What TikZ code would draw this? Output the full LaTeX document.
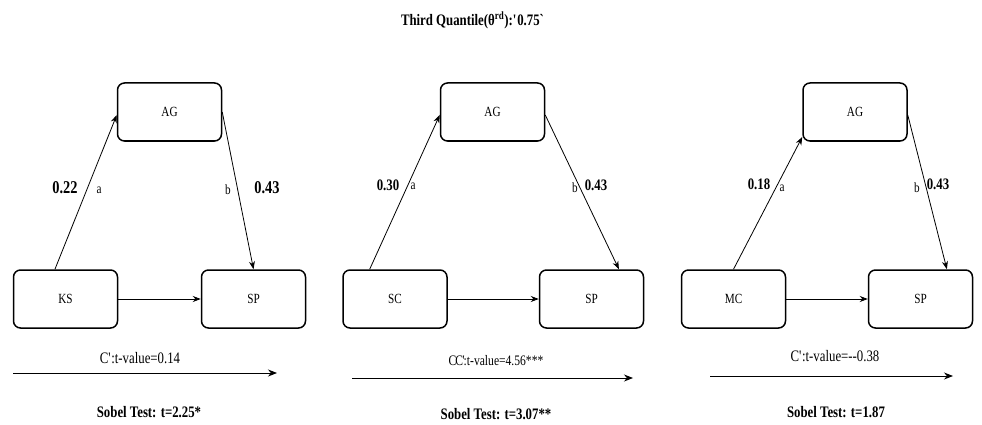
\documentclass[tikz,border=0pt]{standalone}
\usepackage{fontspec}
\setmainfont{Liberation Serif}[FakeStretch=0.8]
\usetikzlibrary{arrows.meta,calc}
\tikzset{
  box/.style={draw, line width=1.5pt, rounded corners=7pt, minimum width=104pt, minimum height=58pt, inner sep=0pt, font=\fontsize{14}{16}\selectfont},
  arr/.style={-{Stealth[length=8pt,width=6pt]}, line width=0.8pt},
  longarr/.style={-{Stealth[length=9pt,width=7pt]}, line width=0.9pt},
  coefbig/.style={font=\bfseries\fontsize{18}{20}\selectfont},
  coef/.style={font=\bfseries\fontsize{16}{18}\selectfont},
  lab/.style={font=\fontsize{14}{16}\selectfont},
  ctext/.style={font=\fontsize{16}{18}\selectfont},
  ctextsmall/.style={font=\fontsize{14.5}{16}\selectfont},
  sobel/.style={font=\bfseries\fontsize{16}{18}\selectfont},
  ttl/.style={font=\bfseries\fontsize{16}{18}\selectfont}
}
\begin{document}
\begin{tikzpicture}[x=1pt,y=-1pt]
\useasboundingbox (0,0) rectangle (982,425);
\fill[white] (0,0) rectangle (982,425);
\node[ttl] (title) at (473,20) {Third Quantile(θ\textsuperscript{rd}):\textquotesingle0.75\textasciigrave};
% Panel 1
\node[box] (AG1) at (169.5,112) {AG};
\node[box] (KS) at (65.5,299) {KS};
\node[box] (SP1) at (253.5,299) {SP};
\draw[arr] ($(KS.north west)!0.4!(KS.north east)$) -- ($(AG1.north west)!0.55!(AG1.south west)$);
\draw[arr] (AG1.east) -- (SP1.north);
\draw[arr] (KS.east) -- (SP1.west);
\node[coefbig] (c1a) at (65,188) {0.22};
\node[lab] (l1a) at (99,190) {a};
\node[lab] (l1b) at (228,190) {b};
\node[coefbig] (c1b) at (267,188) {0.43};
\node[ctext] (t1) at (140,358) {C\textquotesingle:t-value=0.14};
\coordinate (s1) at (13,373);
\coordinate (e1) at (277,373);
\draw[longarr] (s1) -- (e1);
\node[sobel] (sob1) at (149,412) {Sobel Test: t=2.25*};
% Panel 2
\node[box] (AG2) at (492.5,112) {AG};
\node[box] (SC) at (395,299) {SC};
\node[box] (SP2) at (591.5,299) {SP};
\draw[arr] ($(SC.north west)!0.26!(SC.north east)$) -- ($(AG2.north west)!0.55!(AG2.south west)$);
\draw[arr] ($(AG2.north east)!0.55!(AG2.south east)$) -- ($(SP2.north west)!0.76!(SP2.north east)$);
\draw[arr] (SC.east) -- (SP2.west);
\node[coef] (c2a) at (388,185) {0.30};
\node[lab] (l2a) at (413,186) {a};
\node[lab] (l2b) at (575,188) {b};
\node[coef] (c2b) at (596,185) {0.43};
\node[ctextsmall] (t2) at (496,361) {C\kern-1pt C\kern-0.5pt\textquotesingle\kern-1.5pt:t-value=4.56***};
\coordinate (s2) at (352,378);
\coordinate (e2) at (633,378);
\draw[longarr] (s2) -- (e2);
\node[sobel] (sob2) at (496,414) {Sobel Test: t=3.07**};
% Panel 3
\node[box] (AG3) at (855,112) {AG};
\node[box] (MC) at (733.5,299) {MC};
\node[box] (SP3) at (920.5,299) {SP};
\draw[arr] (MC.north) -- ($(AG3.north west)!0.92!(AG3.south west)$);
\draw[arr] ($(AG3.north east)!0.55!(AG3.south east)$) -- ($(SP3.north west)!0.75!(SP3.north east)$);
\draw[arr] (MC.east) -- (SP3.west);
\node[coef] (c3a) at (759,184) {0.18};
\node[lab] (l3a) at (782,188) {a};
\node[lab] (l3b) at (917,188) {b};
\node[coef] (c3b) at (938,184) {0.43};
\node[ctext] (t3) at (835,356) {C\textquotesingle:t-value=-{}-0.38};
\coordinate (s3) at (710,376);
\coordinate (e3) at (953,376);
\draw[longarr] (s3) -- (e3);
\node[sobel] (sob3) at (836,412) {Sobel Test: t=1.87};
\end{tikzpicture}
\end{document}
